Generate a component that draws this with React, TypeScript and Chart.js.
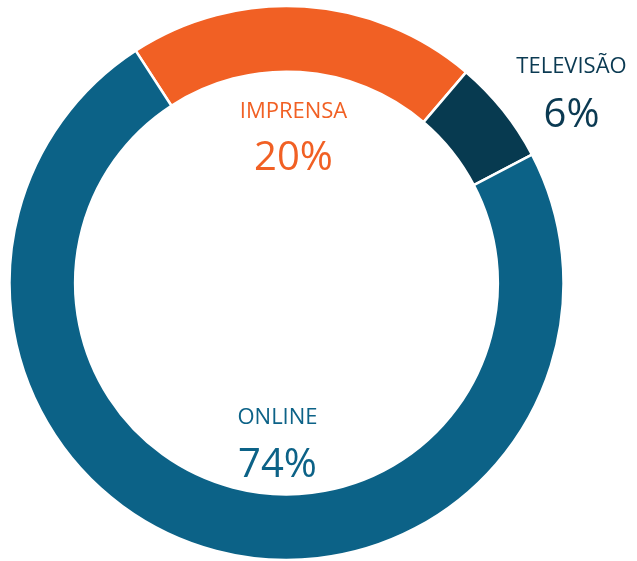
import React, { useEffect, useRef } from "react";
import { Chart, registerables } from "chart.js";

Chart.register(...registerables);

const categories = ["IMPRENSA", "TELEVISÃO", "ONLINE"];
const values = [20.4, 6.1, 73.5];
const percentLabels = ["20%", "6%", "74%"];
const sliceColors = ["#F16024", "#073A50", "#0C6287"];
const textColors = ["#F16024", "#0B3A52", "#0C6287"];

// label placement relative to the doughnut centre: [dx, nameBaselineDy, pctBaselineDy]
const labelOffsets: [number, number, number][] = [
  [7, -165, -113],
  [285, -210, -156],
  [-9, 141, 194],
];

const labelPlugin = {
  id: "sliceLabels",
  afterDraw(chart: any) {
    const meta = chart.getDatasetMeta(0);
    const ctx = chart.ctx;
    ctx.save();
    ctx.textAlign = "center";
    ctx.textBaseline = "alphabetic";
    meta.data.forEach((arc: any, i: number) => {
      const cx = arc.x;
      const cy = arc.y;
      const [dx, ny, py] = labelOffsets[i];
      ctx.fillStyle = textColors[i];
      ctx.font = '22px "Open Sans"';
      ctx.fillText(categories[i], cx + dx, cy + ny);
      ctx.font = '40px "Open Sans"';
      ctx.fillText(percentLabels[i], cx + dx, cy + py);
    });
    ctx.restore();
  },
};

export default function App() {
  const ref = useRef<HTMLCanvasElement | null>(null);
  useEffect(() => {
    if (!ref.current) return;
    const chart = new Chart(ref.current, {
      type: "doughnut",
      data: {
        labels: categories,
        datasets: [
          {
            data: values,
            backgroundColor: sliceColors,
            borderColor: "#ffffff",
            borderWidth: 2.5,
            radius: 277,
            cutout: "76.3%",
            hoverOffset: 0,
          } as any,
        ],
      },
      options: {
        animation: false,
        responsive: false,
        rotation: -33,
        layout: { padding: { left: 0, right: 64, top: 5, bottom: 0 } },
        plugins: {
          legend: { display: false },
          tooltip: { enabled: false },
        },
      },
      plugins: [labelPlugin],
    });
    return () => chart.destroy();
  }, []);
  return (
    <div style={{ position: "fixed", left: 0, top: 0, width: 637, height: 561, background: "#fff" }}>
      <canvas ref={ref} width={637} height={561} style={{ width: 637, height: 561, display: "block" }} />
    </div>
  );
}
